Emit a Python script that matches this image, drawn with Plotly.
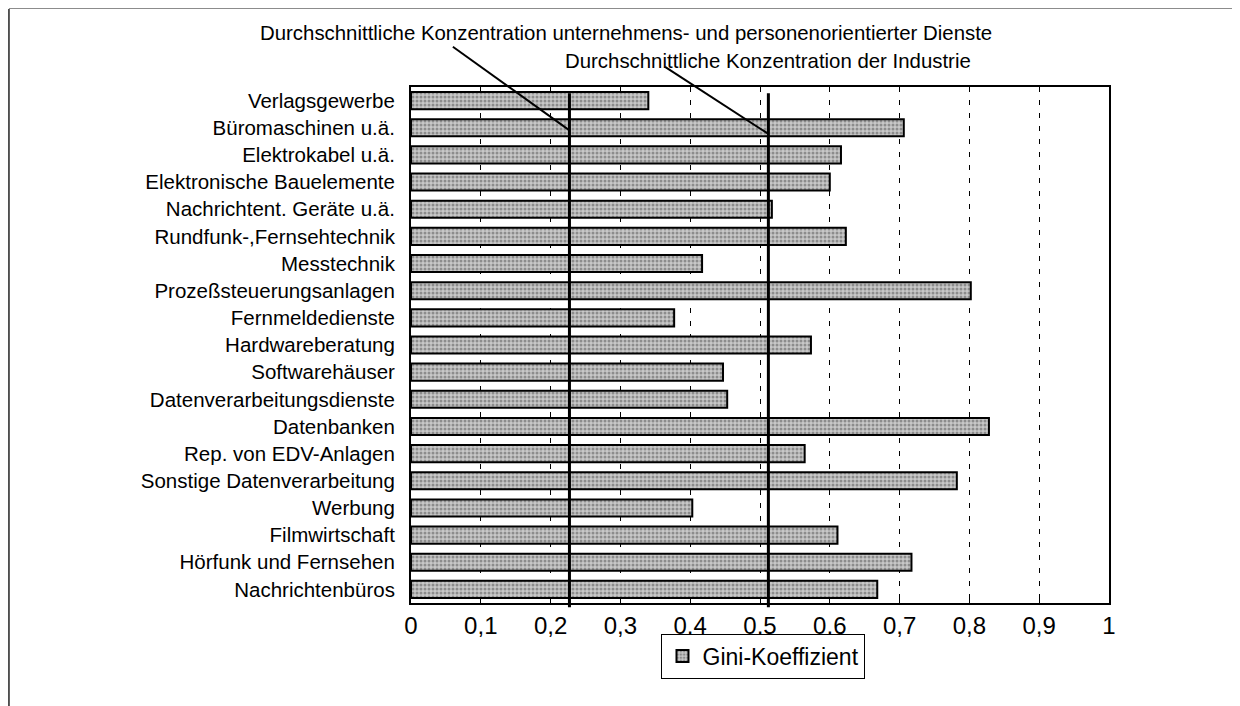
import plotly.graph_objects as go

categories = [
    "Verlagsgewerbe", "Büromaschinen u.ä.", "Elektrokabel u.ä.",
    "Elektronische Bauelemente", "Nachrichtent. Geräte u.ä.",
    "Rundfunk-,Fernsehtechnik", "Messtechnik", "Prozeßsteuerungsanlagen",
    "Fernmeldedienste", "Hardwareberatung", "Softwarehäuser",
    "Datenverarbeitungsdienste", "Datenbanken", "Rep. von EDV-Anlagen",
    "Sonstige Datenverarbeitung", "Werbung", "Filmwirtschaft",
    "Hörfunk und Fernsehen", "Nachrichtenbüros",
]
gini = [0.340, 0.706, 0.616, 0.600, 0.517, 0.623, 0.417, 0.802, 0.377,
        0.573, 0.447, 0.453, 0.828, 0.564, 0.782, 0.403, 0.611, 0.717, 0.668]
series_name = "Gini-Koeffizient"

avg_dienste = 0.227
avg_industrie = 0.512
label_dienste = "Durchschnittliche Konzentration unternehmens- und personenorientierter Dienste"
label_industrie = "Durchschnittliche Konzentration der Industrie"

x_ticks = [0, 0.1, 0.2, 0.3, 0.4, 0.5, 0.6, 0.7, 0.8, 0.9, 1]
x_tick_labels = ["0", "0,1", "0,2", "0,3", "0,4", "0,5", "0,6", "0,7", "0,8", "0,9", "1"]

FONT = "Liberation Sans, Arial, sans-serif"

fig = go.Figure()
fig.add_trace(go.Bar(
    y=categories, x=gini, orientation="h", name=series_name,
    marker=dict(
        color="#c4c4c4",
        line=dict(color="black", width=2),
        pattern=dict(shape=".", fgcolor="#505050", bgcolor="#c8c8c8",
                     size=4, solidity=0.45),
    ),
    showlegend=True,
))

shapes = []
for v in (avg_dienste, avg_industrie):
    shapes.append(dict(type="line", xref="x", yref="paper", x0=v, x1=v,
                       y0=-0.008, y1=0.988, line=dict(color="black", width=3),
                       layer="above"))
# leader lines from labels to average lines
shapes.append(dict(type="line", xref="x", yref="paper", x0=0.060, y0=1.078,
                   x1=avg_dienste, y1=0.916, line=dict(color="black", width=2)))
shapes.append(dict(type="line", xref="x", yref="paper", x0=0.364, y0=1.039,
                   x1=avg_industrie, y1=0.909, line=dict(color="black", width=2)))
# outer frame (left and top)
shapes.append(dict(type="line", xref="paper", yref="paper", x0=-0.576, x1=-0.576,
                   y0=1.151, y1=-0.22, line=dict(color="#222", width=1.5)))
shapes.append(dict(type="line", xref="paper", yref="paper", x0=-0.576, x1=1.19,
                   y0=1.153, y1=1.153, line=dict(color="#666", width=1.5)))

annotations = [
    dict(text=label_dienste, xref="paper", yref="paper", x=0.308, y=1.105,
         showarrow=False, xanchor="center", yanchor="middle",
         font=dict(family=FONT, size=20.4, color="black")),
    dict(text=label_industrie, xref="paper", yref="paper", x=0.511, y=1.051,
         showarrow=False, xanchor="center", yanchor="middle",
         font=dict(family=FONT, size=20.4, color="black")),
]

fig.update_layout(
    width=1232, height=698,
    margin=dict(l=403, r=131, t=79, b=103),
    paper_bgcolor="white", plot_bgcolor="white",
    bargap=0.37,
    font=dict(family=FONT, color="black"),
    shapes=shapes, annotations=annotations,
    legend=dict(
        orientation="h", x=0.505, xanchor="center", y=-0.103, yanchor="middle",
        bordercolor="black", borderwidth=1, bgcolor="white",
        itemwidth=30,
        font=dict(family=FONT, size=23, color="black"),
    ),
)
fig.update_xaxes(
    range=[0, 1], tickvals=x_ticks, ticktext=x_tick_labels,
    showgrid=True, gridcolor="black", gridwidth=1.2, griddash="5px,8px",
    showline=True, mirror=True, linecolor="black", linewidth=2,
    ticks="inside", ticklen=4, tickcolor="black",
    tickfont=dict(family=FONT, size=24, color="black"),
    zeroline=False,
)
fig.update_yaxes(
    autorange="reversed", showgrid=False,
    showline=True, mirror=True, linecolor="black", linewidth=2,
    ticks="", ticklabelstandoff=10,
    tickfont=dict(family=FONT, size=20.5, color="black"),
)

fig.write_html("out.html")
